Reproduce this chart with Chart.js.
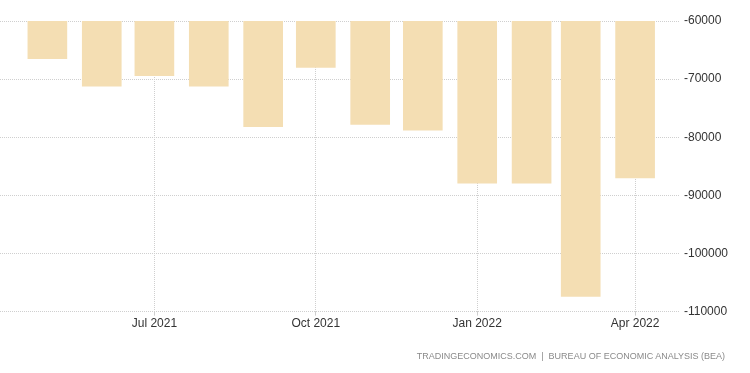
<!DOCTYPE html>
<html lang="en">
<head>
<meta charset="UTF-8">
<script src="https://cdn.jsdelivr.net/npm/chart.js"></script>
<title>Balance of Trade</title>
<style>
    body { margin: 0; background: #fff; }
    .wrap { position: relative; width: 750px; height: 373px; }
    .source {
        position: absolute;
        right: 25px;
        top: 351px;
        font: 9px 'Liberation Sans', Arial, sans-serif;
        color: #8a8a8a;
        white-space: pre;
    }
</style>
</head>
<body>
<div class="wrap">
    <canvas id="tradeChart" width="750" height="373"></canvas>
    <div class="source">TRADINGECONOMICS.COM  |  BUREAU OF ECONOMIC ANALYSIS (BEA)</div>
</div>
<script>
    // Monthly balance (USD million)
    const months = ['2021-05', '2021-06', '2021-07', '2021-08', '2021-09', '2021-10',
                    '2021-11', '2021-12', '2022-01', '2022-02', '2022-03', '2022-04'];
    const balance = [-66500, -71200, -69400, -71200, -78200, -68000,
                     -77800, -78800, -87900, -87900, -107400, -87000];

    const tickMonths = ['2021-07', '2021-10', '2022-01', '2022-04'];
    const tickLabels = ['Jul 2021', 'Oct 2021', 'Jan 2022', 'Apr 2022'];
    const yTicks = [-60000, -70000, -80000, -90000, -100000, -110000];

    const DAY = 86400000;
    function toTime(m) {
        const [y, mo] = m.split('-').map(Number);
        return Date.UTC(y, mo - 1, 1);
    }

    const ctx = document.getElementById('tradeChart').getContext('2d');

    const tradeChart = new Chart(ctx, {
        type: 'bar',
        data: {
            datasets: [{
                data: months.map((m, i) => ({ x: toTime(m), y: balance[i] })),
                backgroundColor: '#f4deb3',
                borderWidth: 0,
                barThickness: 39
            }]
        },
        options: {
            responsive: false,
            animation: false,
            layout: {
                padding: { top: 21, right: 17, left: 0, bottom: 41 }
            },
            scales: {
                x: {
                    type: 'linear',
                    offset: false,
                    min: toTime('2021-07') - 88 * DAY,
                    max: toTime('2022-04') + 25 * DAY,
                    afterBuildTicks: scale => {
                        scale.ticks = tickMonths.map(m => ({ value: toTime(m) }));
                    },
                    ticks: {
                        autoSkip: false,
                        maxRotation: 0,
                        color: '#333',
                        padding: 1,
                        font: { family: 'Liberation Sans', size: 12 },
                        callback: (value, index) => tickLabels[index]
                    },
                    grid: {
                        offset: false,
                        color: '#cfcfcf',
                        tickLength: 4
                    },
                    border: { display: false, dash: [1, 1] }
                },
                y: {
                    position: 'right',
                    min: -110000,
                    max: -60000,
                    afterBuildTicks: scale => {
                        scale.ticks = yTicks.map(v => ({ value: v }));
                    },
                    ticks: {
                        color: '#333',
                        padding: 5,
                        font: { family: 'Liberation Sans', size: 12 },
                        callback: value => String(value)
                    },
                    grid: {
                        color: '#cfcfcf',
                        drawTicks: false
                    },
                    border: { display: false, dash: [1, 1] }
                }
            },
            plugins: {
                legend: { display: false },
                tooltip: { enabled: false }
            }
        }
    });
</script>
</body>
</html>
